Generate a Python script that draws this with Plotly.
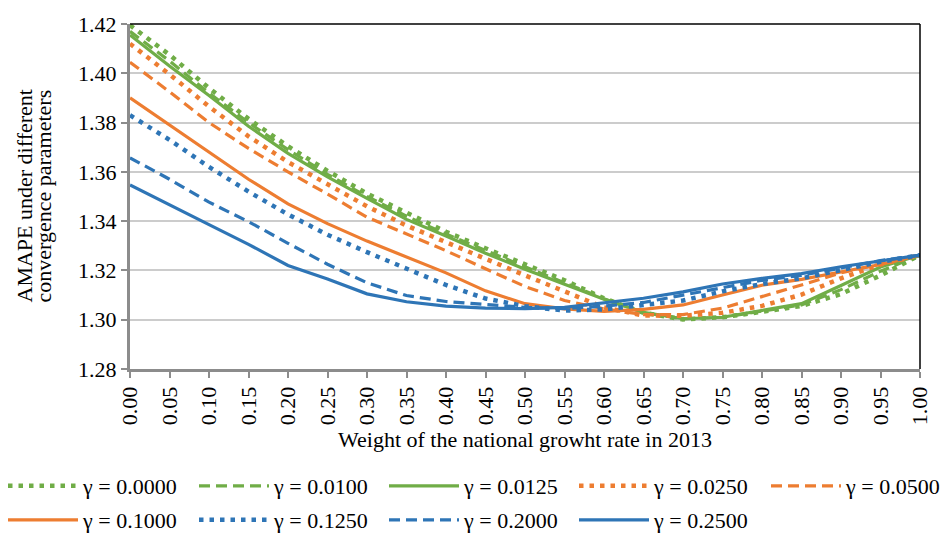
import plotly.graph_objects as go

weights = [0.00, 0.05, 0.10, 0.15, 0.20, 0.25, 0.30, 0.35, 0.40, 0.45, 0.50,
           0.55, 0.60, 0.65, 0.70, 0.75, 0.80, 0.85, 0.90, 0.95, 1.00]
x_tick_labels = ["0.00", "0.05", "0.10", "0.15", "0.20", "0.25", "0.30", "0.35", "0.40", "0.45", "0.50",
                 "0.55", "0.60", "0.65", "0.70", "0.75", "0.80", "0.85", "0.90", "0.95", "1.00"]
y_ticks = [1.28, 1.30, 1.32, 1.34, 1.36, 1.38, 1.40, 1.42]
y_tick_labels = ["1.28", "1.30", "1.32", "1.34", "1.36", "1.38", "1.40", "1.42"]

gamma_labels = ["γ = 0.0000", "γ = 0.0100", "γ = 0.0125", "γ = 0.0250", "γ = 0.0500",
                "γ = 0.1000", "γ = 0.1250", "γ = 0.2000", "γ = 0.2500"]

g_0000 = [1.4195, 1.4075, 1.3940, 1.3815, 1.3704, 1.3604, 1.3512, 1.3435, 1.3357, 1.3290, 1.3225,
          1.3160, 1.3087, 1.3028, 1.3001, 1.3010, 1.3032, 1.3056, 1.3104, 1.3180, 1.3262]
g_0100 = [1.4170, 1.4050, 1.3920, 1.3800, 1.3690, 1.3590, 1.3500, 1.3420, 1.3348, 1.3280, 1.3215,
          1.3150, 1.3085, 1.3029, 1.3003, 1.3010, 1.3035, 1.3060, 1.3122, 1.3197, 1.3262]
g_0125 = [1.4155, 1.4030, 1.3910, 1.3785, 1.3675, 1.3580, 1.3492, 1.3407, 1.3340, 1.3270, 1.3205,
          1.3145, 1.3083, 1.3030, 1.3004, 1.3010, 1.3037, 1.3065, 1.3139, 1.3214, 1.3262]
g_0250 = [1.4120, 1.3996, 1.3865, 1.3744, 1.3640, 1.3549, 1.3460, 1.3382, 1.3314, 1.3245, 1.3180,
          1.3115, 1.3050, 1.3017, 1.3016, 1.3028, 1.3056, 1.3102, 1.3168, 1.3224, 1.3262]
g_0500 = [1.4045, 1.3925, 1.3800, 1.3695, 1.3600, 1.3510, 1.3416, 1.3348, 1.3280, 1.3207, 1.3135,
          1.3078, 1.3044, 1.3021, 1.3021, 1.3047, 1.3093, 1.3141, 1.3190, 1.3225, 1.3262]
g_1000 = [1.3900, 1.3790, 1.3680, 1.3570, 1.3470, 1.3390, 1.3319, 1.3253, 1.3190, 1.3117, 1.3065,
          1.3044, 1.3034, 1.3042, 1.3060, 1.3100, 1.3140, 1.3164, 1.3193, 1.3224, 1.3262]
g_1250 = [1.3830, 1.3730, 1.3620, 1.3520, 1.3427, 1.3345, 1.3274, 1.3206, 1.3141, 1.3086, 1.3055,
          1.3037, 1.3042, 1.3060, 1.3078, 1.3115, 1.3145, 1.3168, 1.3200, 1.3235, 1.3262]
g_2000 = [1.3657, 1.3570, 1.3477, 1.3398, 1.3310, 1.3225, 1.3150, 1.3098, 1.3074, 1.3061, 1.3050,
          1.3045, 1.3055, 1.3070, 1.3100, 1.3130, 1.3160, 1.3180, 1.3210, 1.3240, 1.3262]
g_2500 = [1.3547, 1.3465, 1.3386, 1.3306, 1.3220, 1.3165, 1.3105, 1.3073, 1.3055, 1.3047, 1.3045,
          1.3050, 1.3068, 1.3087, 1.3113, 1.3145, 1.3168, 1.3187, 1.3215, 1.3240, 1.3262]

series = [g_0000, g_0100, g_0125, g_0250, g_0500, g_1000, g_1250, g_2000, g_2500]

GREEN = "#70AD47"
ORANGE = "#ED7D31"
BLUE = "#2E75B6"
DOT = "4.5px,6px"
DASH = "11px,6px"
styles = [
    (GREEN, DOT), (GREEN, DASH), (GREEN, "solid"),
    (ORANGE, DOT), (ORANGE, DASH), (ORANGE, "solid"),
    (BLUE, DOT), (BLUE, DASH), (BLUE, "solid"),
]

FONT = "Liberation Serif, Times New Roman, serif"
FS = 22
W, H = 944, 537

# legend grid (pixel positions of each entry: column x, row top y)
col_x = [3, 194, 384, 574, 766]
row_y = [465, 499]

fig = go.Figure()
legend_layouts = {}
for i, (name, vals, (col, dash)) in enumerate(zip(gamma_labels, series, styles)):
    lname = "legend" if i == 0 else f"legend{i + 1}"
    width = 4.5 if dash == DOT else 3.2
    fig.add_trace(go.Scatter(
        x=weights, y=vals, mode="lines", name=name,
        line=dict(color=col, width=width, dash=dash),
        legend=lname,
    ))
    r, c = divmod(i, 5)
    legend_layouts[lname] = dict(
        orientation="h", xref="container", yref="container",
        x=col_x[c] / W, y=1 - row_y[r] / H, xanchor="left", yanchor="top",
        font=dict(family=FONT, size=FS, color="#000000"),
        itemwidth=70, bgcolor="rgba(0,0,0,0)", borderwidth=0,
    )

fig.update_layout(
    width=W, height=H,
    margin=dict(l=130, r=24, t=13, b=168),
    paper_bgcolor="white", plot_bgcolor="white",
    font=dict(family=FONT, size=FS, color="#000000"),
    showlegend=True,
    xaxis=dict(
        range=[0, 1], tickmode="array", tickvals=weights, ticktext=x_tick_labels,
        tickangle=-90, ticks="outside", ticklen=6, tickwidth=2, tickcolor="#8c8c8c",
        showline=True, linecolor="#8c8c8c", linewidth=3, showgrid=False, zeroline=False,
        tickfont=dict(family=FONT, size=FS, color="#000000"),
        title=dict(text="Weight of the national growht rate in 2013",
                   font=dict(family=FONT, size=FS, color="#000000"), standoff=8),
    ),
    yaxis=dict(
        range=[1.28, 1.42], tickmode="array", tickvals=y_ticks, ticktext=y_tick_labels,
        ticks="outside", ticklen=6, tickwidth=2, tickcolor="#8c8c8c",
        showline=True, linecolor="#8c8c8c", linewidth=3,
        showgrid=True, gridcolor="#cccccc", gridwidth=1.5, zeroline=False,
        tickfont=dict(family=FONT, size=FS, color="#000000"),
    ),
    **legend_layouts,
)

# y-axis title as two rotated lines (tight line spacing as in the reference)
plot_w = W - 130 - 24
for text, px in [("AMAPE under different", 24), ("convergence parameters", 43)]:
    fig.add_annotation(
        text=text, xref="paper", yref="paper", x=(px - 130) / plot_w, y=0.5,
        xanchor="center", yanchor="middle", textangle=-90, showarrow=False,
        font=dict(family=FONT, size=FS, color="#000000"),
    )

# black frame on top and right edges of the plot area
fig.add_shape(type="line", xref="paper", yref="paper", x0=0, x1=1, y0=1, y1=1,
              line=dict(color="#000000", width=1.5), layer="above")
fig.add_shape(type="line", xref="paper", yref="paper", x0=1, x1=1, y0=0, y1=1,
              line=dict(color="#000000", width=1.5), layer="above")

fig.write_html("out.html")
